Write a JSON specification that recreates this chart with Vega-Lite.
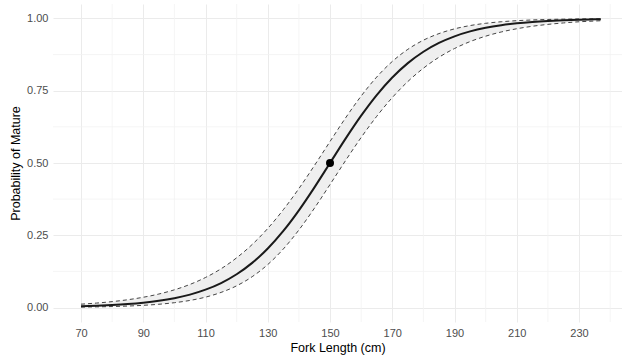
{
  "$schema": "https://vega.github.io/schema/vega-lite/v6.json",
  "autosize": "none",
  "padding": {"left": 53, "top": 4, "right": 0, "bottom": 34},
  "width": 569,
  "height": 318,
  "background": "white",
  "config": {
    "view": {"stroke": null},
    "font": "Liberation Sans",
    "axis": {
      "domain": false,
      "ticks": false,
      "grid": true,
      "gridColor": "#ebebeb",
      "gridWidth": 1,
      "labelColor": "#4d4d4d",
      "labelFontSize": 11,
      "titleColor": "#000000",
      "titleFontSize": 12.5,
      "titleFontWeight": "normal"
    }
  },
  "datasets": {
    "curve": [
      {"length": 70, "fit": 0.00432, "lower": 0.00159, "upper": 0.01172},
      {"length": 75, "fit": 0.00606, "lower": 0.00236, "upper": 0.0155},
      {"length": 80, "fit": 0.0085, "lower": 0.0035, "upper": 0.02047},
      {"length": 85, "fit": 0.01189, "lower": 0.00519, "upper": 0.02701},
      {"length": 90, "fit": 0.01664, "lower": 0.00769, "upper": 0.03557},
      {"length": 95, "fit": 0.0232, "lower": 0.01138, "upper": 0.04676},
      {"length": 100, "fit": 0.0323, "lower": 0.0168, "upper": 0.0613},
      {"length": 105, "fit": 0.0448, "lower": 0.0246, "upper": 0.08},
      {"length": 110, "fit": 0.0618, "lower": 0.036, "upper": 0.104},
      {"length": 115, "fit": 0.0847, "lower": 0.0524, "upper": 0.1342},
      {"length": 120, "fit": 0.1151, "lower": 0.0752, "upper": 0.1721},
      {"length": 125, "fit": 0.1545, "lower": 0.1068, "upper": 0.2182},
      {"length": 130, "fit": 0.2042, "lower": 0.1488, "upper": 0.2737},
      {"length": 135, "fit": 0.265, "lower": 0.2026, "upper": 0.3385},
      {"length": 140, "fit": 0.3363, "lower": 0.2684, "upper": 0.4117},
      {"length": 145, "fit": 0.4158, "lower": 0.3439, "upper": 0.4915},
      {"length": 150, "fit": 0.5, "lower": 0.4256, "upper": 0.5744},
      {"length": 155, "fit": 0.5842, "lower": 0.5085, "upper": 0.6561},
      {"length": 160, "fit": 0.6637, "lower": 0.5883, "upper": 0.7316},
      {"length": 165, "fit": 0.735, "lower": 0.6615, "upper": 0.7974},
      {"length": 170, "fit": 0.7958, "lower": 0.7263, "upper": 0.8512},
      {"length": 175, "fit": 0.8455, "lower": 0.7818, "upper": 0.8932},
      {"length": 180, "fit": 0.8849, "lower": 0.8279, "upper": 0.9248},
      {"length": 185, "fit": 0.9153, "lower": 0.8658, "upper": 0.9476},
      {"length": 190, "fit": 0.9382, "lower": 0.896, "upper": 0.964},
      {"length": 195, "fit": 0.9552, "lower": 0.92, "upper": 0.9754},
      {"length": 200, "fit": 0.9677, "lower": 0.9387, "upper": 0.9832},
      {"length": 205, "fit": 0.9768, "lower": 0.9532, "upper": 0.9886},
      {"length": 210, "fit": 0.9834, "lower": 0.9644, "upper": 0.9923},
      {"length": 215, "fit": 0.9881, "lower": 0.973, "upper": 0.9948},
      {"length": 220, "fit": 0.9915, "lower": 0.9795, "upper": 0.9965},
      {"length": 225, "fit": 0.9939, "lower": 0.9845, "upper": 0.9976},
      {"length": 230, "fit": 0.9957, "lower": 0.9885, "upper": 0.9984},
      {"length": 235, "fit": 0.9969, "lower": 0.9911, "upper": 0.9989},
      {"length": 237, "fit": 0.9973, "lower": 0.9921, "upper": 0.9991}
    ],
    "minorx": [{"v": 80}, {"v": 100}, {"v": 120}, {"v": 140}, {"v": 160}, {"v": 180}, {"v": 200}, {"v": 220}, {"v": 240}],
    "minory": [{"v": 0.125}, {"v": 0.375}, {"v": 0.625}, {"v": 0.875}],
    "l50": [{"length": 150, "p": 0.5}]
  },
  "layer": [
    {
      "data": {"name": "minorx"},
      "mark": {"type": "rule", "color": "#f2f2f2", "strokeWidth": 0.8},
      "encoding": {
        "x": {"field": "v", "type": "quantitative", "scale": {"domain": [61, 243.8], "nice": false, "zero": false},
          "axis": {"values": [70, 90, 110, 130, 150, 170, 190, 210, 230], "title": "Fork Length (cm)", "labelPadding": 5, "titlePadding": 3}}
      }
    },
    {
      "data": {"name": "minory"},
      "mark": {"type": "rule", "color": "#f2f2f2", "strokeWidth": 0.8},
      "encoding": {
        "y": {"field": "v", "type": "quantitative", "scale": {"domain": [-0.05, 1.05], "nice": false, "zero": false},
          "axis": {"values": [0, 0.25, 0.5, 0.75, 1], "format": ".2f", "title": "Probability of Mature", "labelPadding": 5, "titlePadding": 4}}
      }
    },
    {
      "data": {"name": "curve"},
      "mark": {"type": "area", "color": "#efefef", "opacity": 1, "interpolate": "monotone"},
      "encoding": {
        "x": {"field": "length", "type": "quantitative"},
        "y": {"field": "lower", "type": "quantitative"},
        "y2": {"field": "upper"}
      }
    },
    {
      "data": {"name": "curve"},
      "mark": {"type": "line", "color": "#444444", "strokeWidth": 1, "strokeDash": [4, 3], "interpolate": "monotone"},
      "encoding": {
        "x": {"field": "length", "type": "quantitative"},
        "y": {"field": "upper", "type": "quantitative"}
      }
    },
    {
      "data": {"name": "curve"},
      "mark": {"type": "line", "color": "#444444", "strokeWidth": 1, "strokeDash": [4, 3], "interpolate": "monotone"},
      "encoding": {
        "x": {"field": "length", "type": "quantitative"},
        "y": {"field": "lower", "type": "quantitative"}
      }
    },
    {
      "data": {"name": "curve"},
      "mark": {"type": "line", "color": "#1a1a1a", "strokeWidth": 2, "interpolate": "monotone"},
      "encoding": {
        "x": {"field": "length", "type": "quantitative"},
        "y": {"field": "fit", "type": "quantitative"}
      }
    },
    {
      "data": {"name": "l50"},
      "mark": {"type": "point", "filled": true, "color": "#000000", "size": 64, "opacity": 1},
      "encoding": {
        "x": {"field": "length", "type": "quantitative"},
        "y": {"field": "p", "type": "quantitative"}
      }
    }
  ]
}
